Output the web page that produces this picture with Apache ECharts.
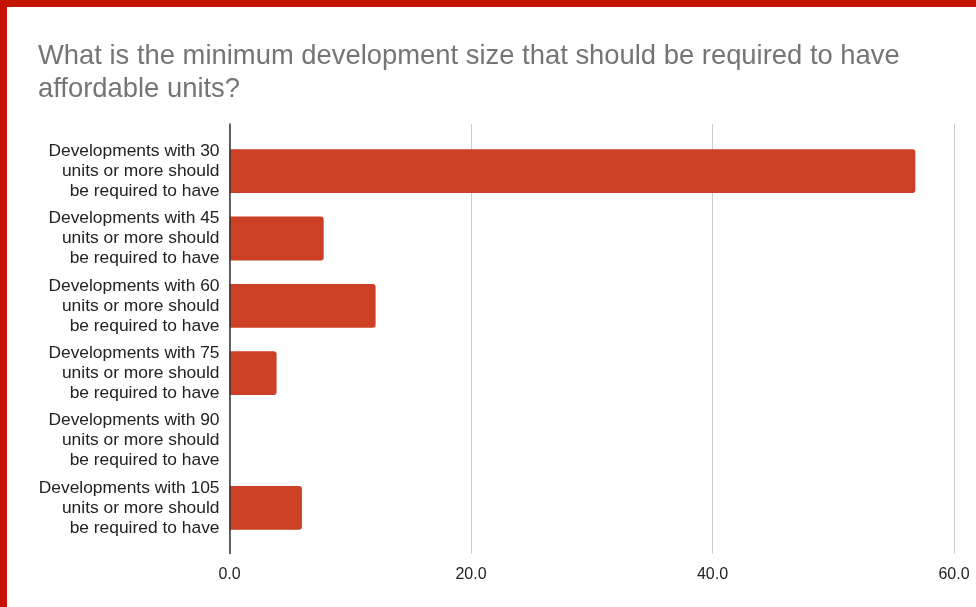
<!DOCTYPE html>
<html>
<head>
<meta charset="utf-8">
<script src="https://cdn.jsdelivr.net/npm/echarts@6/dist/echarts.min.js"></script>
<style>
  html, body { margin: 0; padding: 0; background: #ffffff; }
  #chart { position: absolute; left: 0; top: 0; width: 976px; height: 607px; }
  #frame {
    position: absolute; left: 0; top: 0; width: 976px; height: 607px;
    box-sizing: border-box; border-top: 7px solid #c41300; border-left: 7px solid #c41300;
    pointer-events: none;
  }
</style>
</head>
<body>
<div id="chart"></div>
<div id="frame"></div>
<script>
// Survey answers (categories) and the share of responses for each
const categories = [
  'Developments with 30\nunits or more should\nbe required to have',
  'Developments with 45\nunits or more should\nbe required to have',
  'Developments with 60\nunits or more should\nbe required to have',
  'Developments with 75\nunits or more should\nbe required to have',
  'Developments with 90\nunits or more should\nbe required to have',
  'Developments with 105\nunits or more should\nbe required to have'
];
const values = [56.8, 7.8, 12.1, 3.9, 0, 6.0];
const xTicks = [0, 20, 40, 60];

const titleText = 'What is the minimum development size that should be required to have\naffordable units?';

const chart = echarts.init(document.getElementById('chart'), null, { renderer: 'canvas' });

const xMin = xTicks[0];
const xMax = xTicks[xTicks.length - 1];
const xStep = xTicks[1] - xTicks[0];

chart.setOption({
  backgroundColor: '#ffffff',
  animation: false,
  title: {
    text: titleText,
    left: 33,
    top: 35,
    textStyle: {
      fontFamily: 'Liberation Sans, Arial, sans-serif',
      fontSize: 27.4,
      fontWeight: 'normal',
      color: '#757575',
      lineHeight: 33
    }
  },
  grid: [
    // bars and category labels
    { left: 229.5, right: 22, top: 137.5, bottom: 65.5 },
    // gridlines, zero axis and tick labels
    { left: 229.5, right: 22, top: 124, bottom: 53.5 }
  ],
  xAxis: [
    {
      gridIndex: 0, type: 'value', min: xMin, max: xMax, interval: xStep,
      axisLine: { show: false }, axisTick: { show: false },
      axisLabel: { show: false }, splitLine: { show: false }
    },
    {
      gridIndex: 1, type: 'value', min: xMin, max: xMax, interval: xStep,
      axisLine: { show: false }, axisTick: { show: false },
      splitLine: { show: true, lineStyle: { color: '#cccccc', width: 1 } },
      axisLabel: {
        margin: 13,
        fontFamily: 'Liberation Sans, Arial, sans-serif',
        fontSize: 16,
        color: '#222222',
        formatter: v => v.toFixed(1)
      }
    }
  ],
  yAxis: [
    {
      gridIndex: 0, type: 'category', data: categories, inverse: true,
      axisLine: { show: false }, axisTick: { show: false },
      axisLabel: {
        margin: 10,
        align: 'right',
        fontFamily: 'Liberation Sans, Arial, sans-serif',
        fontSize: 17.4,
        lineHeight: 20,
        color: '#222222'
      }
    },
    {
      gridIndex: 1, type: 'category', data: categories, inverse: true, z: 5,
      axisLine: { show: true, lineStyle: { color: '#333333', width: 1.5 } },
      axisTick: { show: false }, axisLabel: { show: false }, splitLine: { show: false }
    }
  ],
  series: [
    {
      type: 'bar',
      xAxisIndex: 0,
      yAxisIndex: 0,
      data: values,
      barCategoryGap: '35%',
      itemStyle: { color: '#cc4125', borderRadius: [0, 3, 3, 0] }
    }
  ]
});
</script>
</body>
</html>
